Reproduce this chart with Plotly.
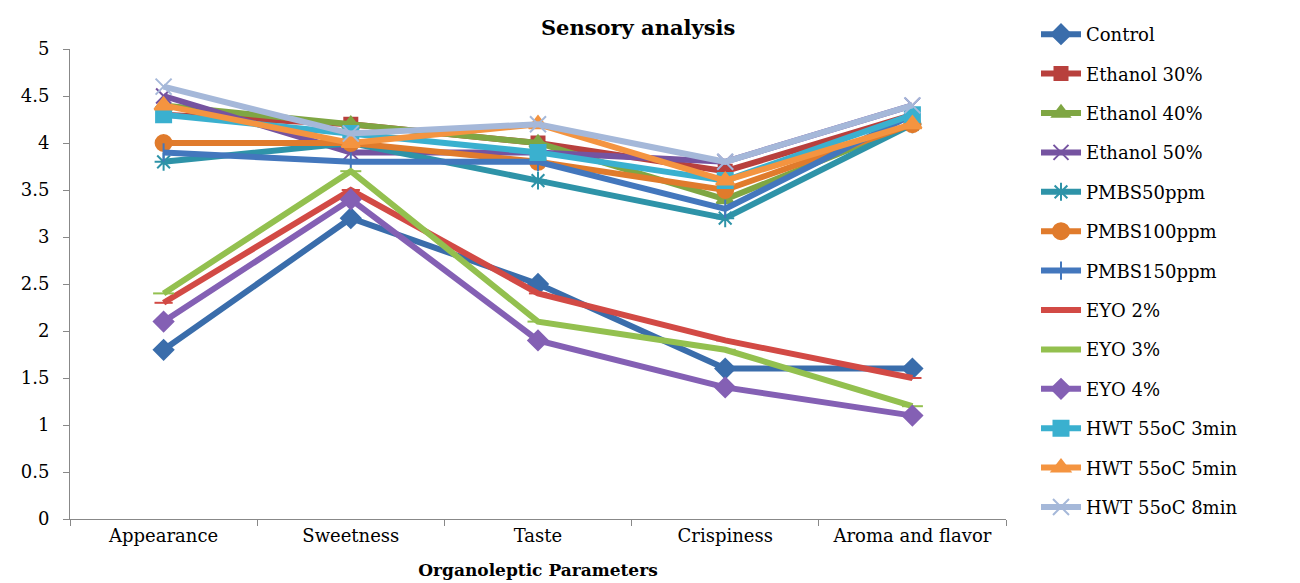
import plotly.graph_objects as go

categories = ["Appearance", "Sweetness", "Taste", "Crispiness", "Aroma and flavor"]

control = [1.8, 3.2, 2.5, 1.6, 1.6]
ethanol_30 = [4.3, 4.2, 4.0, 3.7, 4.3]
ethanol_40 = [4.4, 4.2, 4.0, 3.4, 4.2]
ethanol_50 = [4.5, 3.9, 3.9, 3.8, 4.4]
pmbs_50 = [3.8, 4.0, 3.6, 3.2, 4.2]
pmbs_100 = [4.0, 4.0, 3.8, 3.5, 4.2]
pmbs_150 = [3.9, 3.8, 3.8, 3.3, 4.3]
eyo_2 = [2.3, 3.5, 2.4, 1.9, 1.5]
eyo_3 = [2.4, 3.7, 2.1, 1.8, 1.2]
eyo_4 = [2.1, 3.4, 1.9, 1.4, 1.1]
hwt_3 = [4.3, 4.1, 3.9, 3.6, 4.3]
hwt_5 = [4.4, 4.0, 4.2, 3.6, 4.2]
hwt_8 = [4.6, 4.1, 4.2, 3.8, 4.4]

series = [
    ("Control", control, "#3a6dab", "diamond", 15),
    ("Ethanol 30%", ethanol_30, "#b8403d", "square", 13),
    ("Ethanol 40%", ethanol_40, "#7fa643", "triangle-up", 15),
    ("Ethanol 50%", ethanol_50, "#7553a0", "x-thin-open", 15),
    ("PMBS50ppm", pmbs_50, "#2e93a8", "asterisk-open", 15),
    ("PMBS100ppm", pmbs_100, "#e07b2c", "circle", 16),
    ("PMBS150ppm", pmbs_150, "#4377bd", "line-ns-open", 13),
    ("EYO 2%", eyo_2, "#d24a45", "line-ew-open", 13),
    ("EYO 3%", eyo_3, "#93c04f", "line-ew-open", 15),
    ("EYO 4%", eyo_4, "#8460b4", "diamond", 15),
    ("HWT 55oC 3min", hwt_3, "#3ab0cf", "square", 15),
    ("HWT 55oC 5min", hwt_5, "#f49440", "triangle-up", 16),
    ("HWT 55oC 8min", hwt_8, "#a5b8d9", "x-thin-open", 16),
]

fig = go.Figure()
for i, (name, vals, col, sym, size) in enumerate(series):
    fig.add_trace(go.Scatter(
        x=categories, y=vals, name=name, mode="lines+markers",
        legendgroup=str(i),
        line=dict(color=col, width=6),
        marker=dict(color=col, symbol=sym, size=size,
                    line=dict(color=col, width=2)),
    ))

serif = "DejaVu Serif, serif"
fig.update_layout(
    width=1300, height=583,
    paper_bgcolor="white", plot_bgcolor="white",
    margin=dict(l=62, r=302, t=41, b=72, autoexpand=False),
    font=dict(family=serif, size=18, color="black"),
    title=dict(text="<b>Sensory analysis</b>", x=0.607, xref="paper", xanchor="center",
               y=0.966, yanchor="middle", font=dict(size=21)),
    xaxis=dict(
        type="category", range=[-0.5, 4.5],
        showline=True, linecolor="#888888", linewidth=1,
        ticks="outside", tickson="boundaries", ticklen=6, tickcolor="#888888",
        showgrid=False, zeroline=False,
        title=dict(text="<b>Organoleptic Parameters</b>", font=dict(size=17), standoff=19),
    ),
    yaxis=dict(
        range=[0, 5], dtick=0.5, showline=True, linecolor="#888888", linewidth=1,
        ticks="outside", ticklen=6, tickcolor="#888888", ticklabelstandoff=10,
        showgrid=False, zeroline=False,
    ),
    legend=dict(
        x=(1028 - 62) / 936, xanchor="left", y=(511 - 8) / 470, yanchor="top",
        maxheight=575,
        font=dict(size=18), tracegroupgap=13, itemwidth=40,
        bgcolor="rgba(0,0,0,0)",
    ),
)

fig.write_html("out.html")
